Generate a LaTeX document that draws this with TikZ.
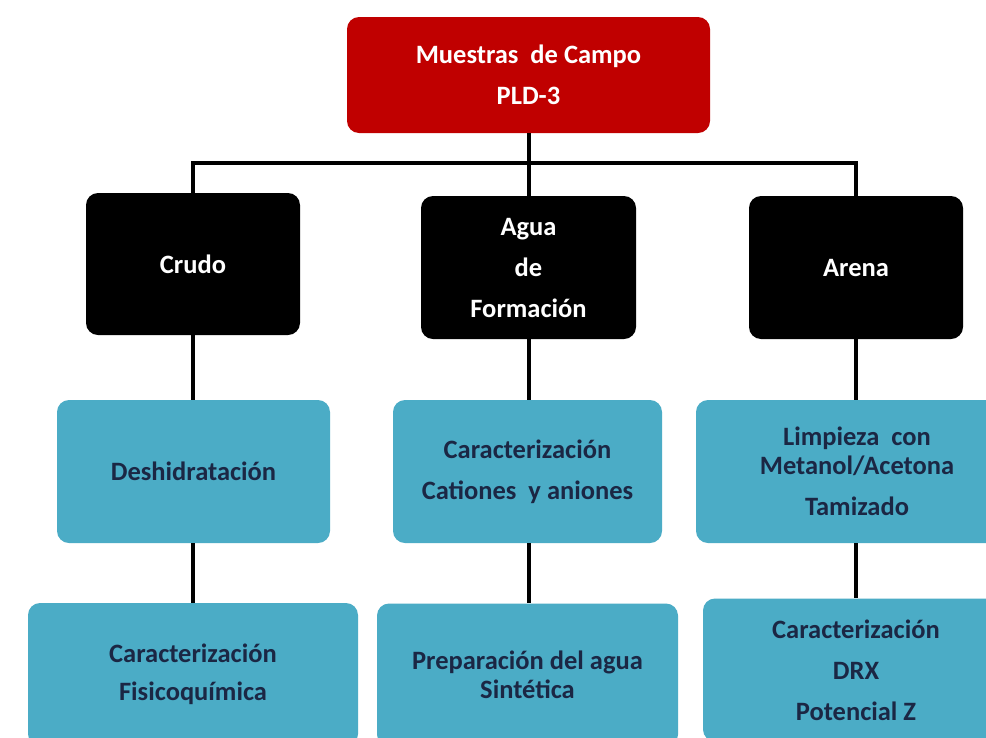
\documentclass[tikz,border=0pt]{standalone}
\usepackage{fontspec}
\setmainfont{Carlito}
\definecolor{topred}{HTML}{C00000}
\definecolor{boxblue}{HTML}{4BACC6}
\definecolor{navytext}{HTML}{1B2744}
\tikzset{
  basebox/.style={rectangle, rounded corners=12pt, inner sep=0pt, align=center,
    font=\fontsize{26.5}{29}\selectfont\bfseries},
  redbox/.style={basebox, fill=topred, text=white},
  blackbox/.style={basebox, fill=black, text=white},
  bluebox/.style={basebox, fill=boxblue, text=navytext},
  link/.style={draw=black, line width=4pt}
}
\begin{document}
\begin{tikzpicture}[x=1pt,y=-1pt]
\useasboundingbox (0,0) rectangle (986,737);
\fill[white] (0,0) rectangle (986,737);
\begin{scope}
\clip (0,0) rectangle (986,737);
\node[redbox, minimum width=363pt, minimum height=116pt] (red) at (528.5,75) {Muestras\ \ de Campo\\[12pt]PLD-3};
\node[blackbox, minimum width=214pt, minimum height=142pt] (crudo) at (193,264) {Crudo};
\node[blackbox, minimum width=215pt, minimum height=143pt] (agua) at (528.5,267.5) {Agua\\[12pt]de\\[12pt]Formación};
\node[blackbox, minimum width=214pt, minimum height=143pt] (arena) at (856,267.5) {Arena};
\node[bluebox, minimum width=273pt, minimum height=143pt] (b1) at (193.5,471.5) {Deshidratación};
\node[bluebox, minimum width=269pt, minimum height=143pt] (b2) at (527.5,471.5) {Caracterización\\[12pt]Cationes\ \ y aniones};
\node[bluebox, minimum width=322pt, minimum height=143pt] (b3) at (857,471.5) {Limpieza\ \ con\\Metanol/Acetona\\[12pt]Tamizado};
\node[bluebox, minimum width=330pt, minimum height=143pt] (c1) at (193,674.5) {Caracterización\\[9pt]Fisicoquímica};
\node[bluebox, minimum width=301pt, minimum height=143pt] (c2) at (527.5,675) {Preparación del agua\\Sintética};
\node[bluebox, minimum width=306pt, minimum height=143pt] (c3) at (856,670) {Caracterización\\[12pt]DRX\\[12pt]Potencial Z};
\coordinate (j) at (528,163);
\draw[link] (red.south) -- (agua.north);
\draw[link] (crudo.north) |- (j) -| (arena.north);
\draw[link] (crudo.south) -- (crudo.south |- b1.north);
\draw[link] (agua.south) -- (agua.south |- b2.north);
\draw[link] (arena.south) -- (arena.south |- b3.north);
\draw[link] (b1.south -| crudo.south) -- (crudo.south |- c1.north);
\draw[link] (b2.south -| agua.south) -- (agua.south |- c2.north);
\draw[link] (b3.south -| arena.south) -- (arena.south |- c3.north);
\end{scope}
\end{tikzpicture}
\end{document}
